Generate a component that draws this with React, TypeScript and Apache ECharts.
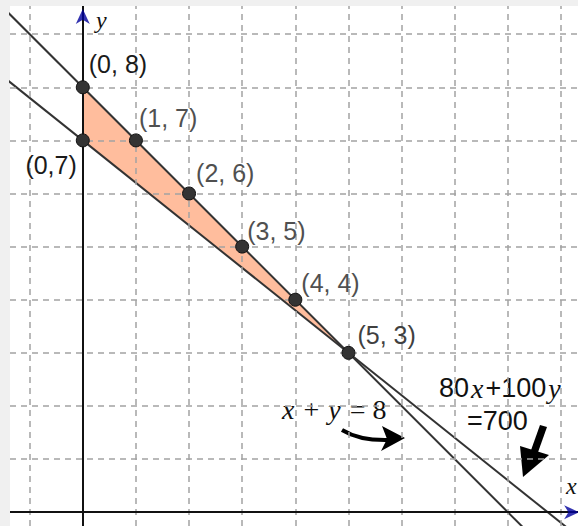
import React, { useEffect, useRef } from "react";
import * as echarts from "echarts";

// ---- data ----
const gridXs = [-1, 0, 1, 2, 3, 4, 5, 6, 7, 8, 9];
const gridYs = [0, 1, 2, 3, 4, 5, 6, 7, 8, 9];
const lineA: number[][] = [[-2, 10], [10, -2]]; // x + y = 8
const lineB: number[][] = [[-2, 8.6], [10, -1]]; // 80x + 100y = 700
const feasibleX = [0, 5, 0];
const feasibleY = [8, 3, 7];
const pointX = [0, 1, 2, 3, 4, 5, 0];
const pointY = [8, 7, 6, 5, 4, 3, 7];
const pointLabels = ["(0, 8)", "(1, 7)", "(2, 6)", "(3, 5)", "(4, 4)", "(5, 3)", "(0,7)"];
const labelOffsets: number[][] = [[6, -23], [3, -22], [7, -20], [5, -16], [6, -17], [9, -18], [-6, 25]];
const labelAligns = ["left", "left", "left", "left", "left", "left", "right"];
const labelColors = ["#1a1a1a", "#505050", "#505050", "#505050", "#505050", "#404040", "#1a1a1a"];

const XMIN = -1.37, XMAX = 9.32, YMIN = -0.26, YMAX = 9.53;

export default function App() {
  const ref = useRef<HTMLDivElement>(null);
  useEffect(() => {
    document.body.style.margin = "0";
    const chart = echarts.init(ref.current!, null, { renderer: "svg" });
    const dashed = { color: "#a3a3a3", width: 1.5, type: [6, 5] as any };
    const italic = { fontStyle: "italic", fontSize: 28, fontFamily: "Liberation Serif", fill: "#111", color: "#111", padding: [0, 2] };
    const option: any = {
      animation: false,
      backgroundColor: "#f0f0f0",
      grid: { left: 10, top: 6, right: 0, bottom: 0, show: true, backgroundColor: "#fff", borderWidth: 0 },
      xAxis: { type: "value", min: XMIN, max: XMAX, show: false },
      yAxis: { type: "value", min: YMIN, max: YMAX, show: false },
      series: [
        {
          type: "line", data: [], z: 1, silent: true,
          markLine: {
            silent: true, symbol: ["none", "none"], label: { show: false },
            lineStyle: dashed,
            data: [...gridXs.map((v) => ({ xAxis: v })), ...gridYs.map((v) => ({ yAxis: v }))],
          },
        },
        {
          type: "custom", z: 2, silent: true,
          data: [0],
          renderItem: (params: any, api: any) => {
            const pts = feasibleX.map((x, i) => api.coord([x, feasibleY[i]]));
            return { type: "polygon", shape: { points: pts }, style: { fill: "#ffbd9d" } };
          },
        },
        {
          type: "line", data: [], z: 3, silent: true,
          markLine: {
            silent: true, symbol: ["none", "none"], label: { show: false },
            lineStyle: { color: "#111", width: 2, type: "solid" },
            data: [{ xAxis: 0 }, { yAxis: 0 }],
          },
        },
        {
          type: "line", data: lineA, z: 4, symbol: "none", silent: true,
          lineStyle: { color: "#333", width: 2 },
        },
        {
          type: "line", data: lineB, z: 4, symbol: "none", silent: true,
          lineStyle: { color: "#333", width: 2 },
        },
        {
          type: "scatter", z: 5, symbolSize: 13,
          itemStyle: { color: "#333", borderColor: "#111", borderWidth: 1, opacity: 1 },
          data: pointX.map((x, i) => ({
            value: [x, pointY[i]],
            label: {
              show: true, formatter: pointLabels[i], position: "inside",
              align: labelAligns[i], verticalAlign: "middle",
              offset: labelOffsets[i], color: labelColors[i],
              fontSize: 25, fontFamily: "Liberation Sans",
            },
          })),
        },
        {
          type: "scatter", z: 6, silent: true,
          symbol: "path://M5,0 L10,14 L5,10 L0,14 Z",
          symbolSize: [14, 15],
          itemStyle: { color: "#00009c" },
          data: [
            { value: [0, 9.33], symbolRotate: 0 },
            { value: [9.2, 0], symbolRotate: -90 },
          ],
        },
      ],
      graphic: [
        { type: "text", x: 96, y: 20, style: { text: "y", fontStyle: "italic", fontSize: 24, fontFamily: "Liberation Serif", fill: "#111", verticalAlign: "middle" } },
        { type: "text", x: 566, y: 486, style: { text: "x", fontStyle: "italic", fontSize: 24, fontFamily: "Liberation Serif", fill: "#111", verticalAlign: "middle" } },
        {
          type: "text", x: 280, y: 409,
          style: {
            text: "{i|x} {n|+} {i|y} {n|=} {n|8}", verticalAlign: "middle",
            fontSize: 28, fontFamily: "Liberation Serif", fill: "#111",
            rich: { i: italic, n: { fontSize: 28, fontFamily: "Liberation Serif", fill: "#111", color: "#111" } },
          },
        },
        {
          type: "text", x: 439, y: 388,
          style: {
            text: "{n|80}{i|x}{n|+100}{i|y}", verticalAlign: "middle",
            fontSize: 27, fontFamily: "Liberation Sans", fill: "#111",
            rich: { i: italic, n: { fontSize: 27, fontFamily: "Liberation Sans", fill: "#111", color: "#111" } },
          },
        },
        {
          type: "text", x: 467, y: 421,
          style: { text: "=700", verticalAlign: "middle", fontSize: 27, fontFamily: "Liberation Sans", fill: "#111" },
        },
        {
          type: "bezierCurve",
          shape: { x1: 342, y1: 430, cpx1: 360, cpy1: 441, x2: 390, y2: 440 },
          style: { stroke: "#000", lineWidth: 4, fill: "none" },
        },
        { type: "polygon", shape: { points: [[382, 426], [405, 438], [381, 451], [387, 439]] }, style: { fill: "#000" } },
        { type: "polygon", shape: { points: [[540, 425], [547, 427], [537, 455], [530, 453]] }, style: { fill: "#000" } },
        { type: "polygon", shape: { points: [[520, 446], [549, 455], [523, 477]] }, style: { fill: "#000" } },
      ],
    };
    chart.setOption(option);
    return () => chart.dispose();
  }, []);
  return <div ref={ref} style={{ width: 578, height: 526 }} />;
}
